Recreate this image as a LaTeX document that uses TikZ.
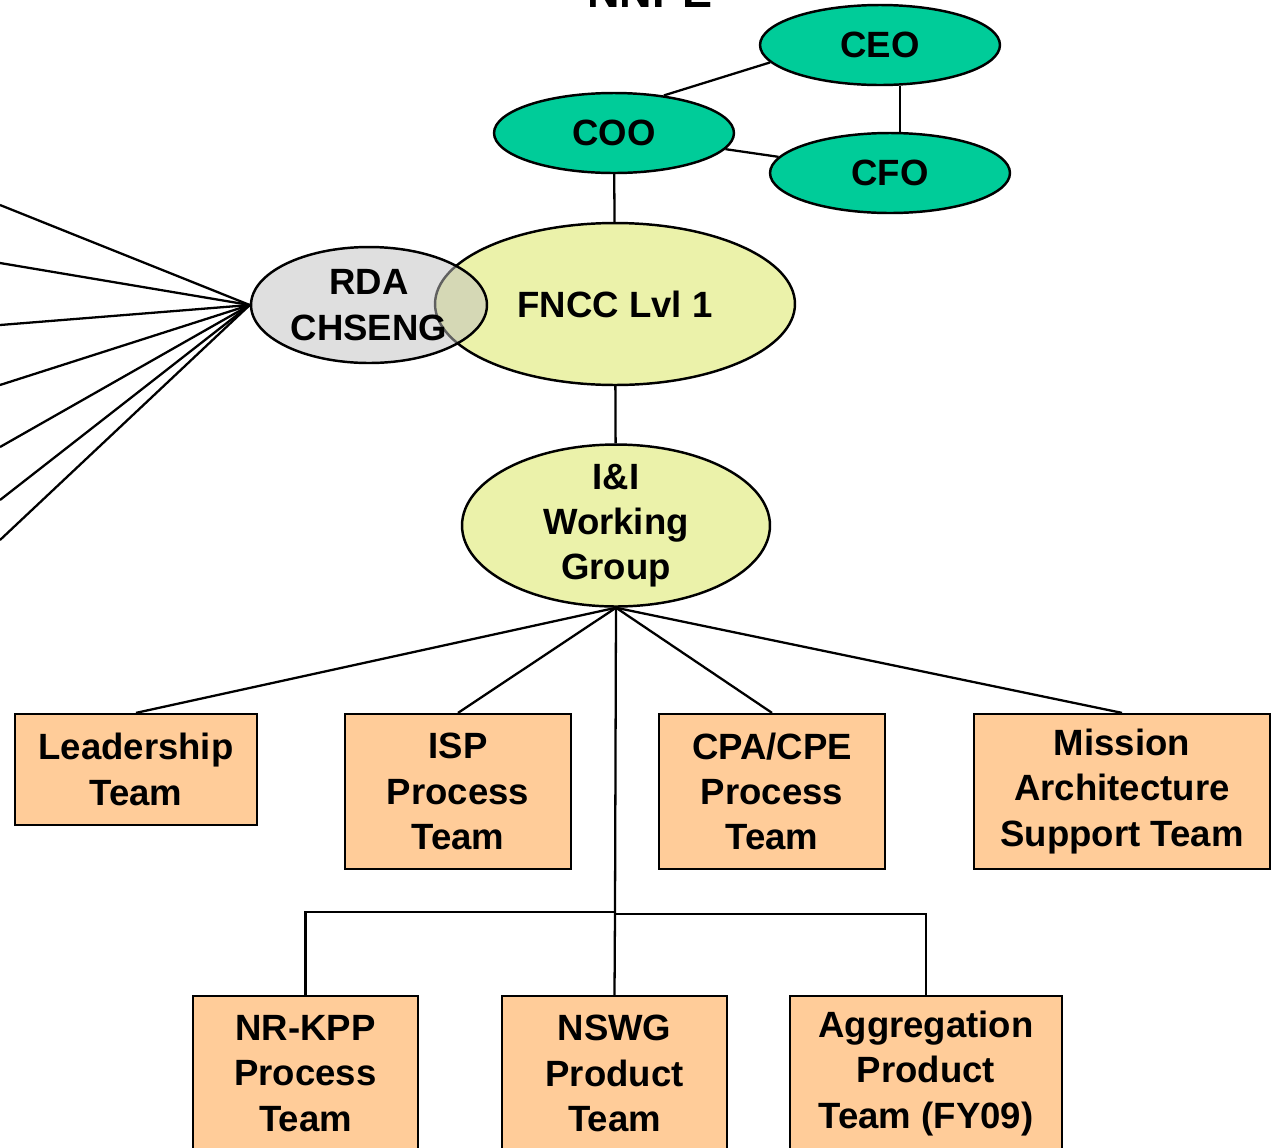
\documentclass[tikz,border=0pt]{standalone}
\usepackage{fontspec}
\setmainfont{Liberation Sans}
\usetikzlibrary{shapes.geometric,calc}
\definecolor{execgreen}{RGB}{0,204,153}
\definecolor{fnccyellow}{RGB}{235,242,170}
\definecolor{teamorange}{RGB}{255,204,153}
\definecolor{rdagrey}{RGB}{192,192,192}
\begin{document}
\begin{tikzpicture}[x=0.02cm,y=-0.02cm,
  every node/.style={font=\fontsize{20.8}{25.8}\selectfont\bfseries, align=center},
  oval/.style={ellipse, draw, line width=1.4pt, inner sep=0pt},
  team/.style={rectangle, draw, line width=1.3pt, fill=teamorange, inner sep=0pt},
  link/.style={line width=1.3pt}]
\useasboundingbox (0,0) rectangle (1275,1147);
\clip (0,0) rectangle (1275,1147);

\node[anchor=base, font=\fontsize{25.6}{30}\selectfont\bfseries] (title) at (650,7) {NNPE};

% executive ellipses
\node[oval, fill=execgreen, minimum width=4.8cm, minimum height=1.6cm] (ceo) at (880,45) {CEO};
\node[oval, fill=execgreen, minimum width=4.8cm, minimum height=1.6cm] (coo) at (614,133) {COO};
\node[oval, fill=execgreen, minimum width=4.8cm, minimum height=1.6cm] (cfo) at (890,173) {CFO};

% FNCC and RDA
\node[oval, fill=fnccyellow, minimum width=7.2cm, minimum height=3.24cm] (fncc) at (615,304) {FNCC Lvl 1};
\node[oval, fill=rdagrey, fill opacity=0.5, text opacity=1, minimum width=4.72cm, minimum height=2.32cm] (rda) at (369,305) {RDA\\CHSENG};

% I&I
\node[oval, fill=fnccyellow, inner ysep=-10pt, minimum width=6.16cm, minimum height=3.24cm] (ii) at (616,525.5) {I\&I\\Working\\Group};

% teams
\node[team, minimum width=4.84cm, minimum height=2.22cm] (lead) at (136,769.5) {Leadership\\Team};
\node[team, minimum width=4.52cm, minimum height=3.1cm] (isp) at (458,791.5) {ISP\\Process\\Team};
\node[team, minimum width=4.52cm, minimum height=3.1cm] (cpa) at (772,791.5) {CPA/CPE\\Process\\Team};
\node[team, minimum width=5.92cm, minimum height=3.1cm] (miss) at (1122,791.5) {Mission\\Architecture\\Support Team};
\node[team, minimum width=4.5cm, minimum height=3.1cm] (nrkpp) at (305.5,1073.5) {NR-KPP\\Process\\Team};
\node[team, minimum width=4.5cm, minimum height=3.1cm] (nswg) at (614.5,1073.5) {NSWG\\Product\\Team};
\node[team, minimum width=5.44cm, minimum height=3.1cm] (agg) at (926,1073.5) {Aggregation\\Product\\Team (FY09)};

% executive connectors
\coordinate (cx) at (900,0);
\draw[link] (ceo.189) -- (coo.37);
\draw[link] (coo) -- (cfo);
\draw[link] (ceo.south -| cx) -- (cfo.north -| cx);
\draw[link] (coo) -- (fncc);
\draw[link] (fncc) -- (ii);

% RDA fan from the left edge
\foreach \yy [count=\i] in {205,263,325,385,447,500,540} {
  \coordinate (l\i) at (0,\yy);
  \draw[link] (l\i) -- (rda.west);
}

% I&I to teams
\draw[link] (ii.south) -- (lead.north);
\draw[link] (ii.south) -- (isp.north);
\draw[link] (ii.south) -- (cpa.north);
\draw[link] (ii.south) -- (miss.north);
\coordinate (hub) at (615,912);
\coordinate (hubr) at (615,914);
\draw[link] (ii.south) -- (hub);
\draw[link] (hub) -| (nrkpp.north);
\draw[link] (hub) -- (nswg.north);
\draw[link] (hubr) -| (agg.north);
\end{tikzpicture}
\end{document}
